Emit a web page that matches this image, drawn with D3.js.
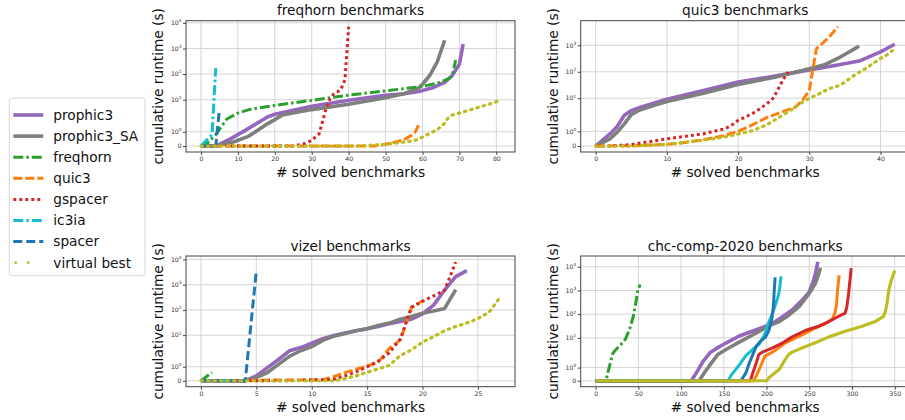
<!DOCTYPE html>
<html>
<head>
<meta charset="utf-8">
<script src="https://cdn.jsdelivr.net/npm/d3@7"></script>
<style>
body { margin: 0; background: #fff; }
text { font-family: "DejaVu Sans", sans-serif; }
</style>
</head>
<body>
<script>
// solvers, in legend / drawing order
var solvers = ["prophic3", "prophic3_SA", "freqhorn", "quic3", "gspacer", "ic3ia", "spacer", "virtual best"];
var colors  = ["#9467bd", "#7f7f7f", "#2ca02c", "#ff7f0e", "#d62728", "#17becf", "#1f77b4", "#bcbd22"];
var dashes  = [null, null, "10,3,2.5,3", "9,3", "3,3", "10,3,2.5,3", "9,4", "1.5,5"];
var widths  = [3.6, 3.6, 3, 3, 3, 3, 3, 3.2];

// [# solved, cumulative runtime (s)] -- freqhorn benchmarks
var fhProphic3 = [[0,0],[4,0],[8,0.5],[12,1.1],[18,2.1],[20,2.7],[30,5.5],[40,9.5],[50,15],[55,17],[59,21],[63,30],[66,47],[68,86],[70,245],[71,1500]];
var fhSA       = [[0,0],[4,0],[9,0.3],[13,0.7],[18,1.56],[20,1.86],[22,2.5],[30,4.1],[40,6.6],[50,12],[55,17],[59,29],[60,40],[62,90],[64,300],[66,2100]];
var fhFreqhorn = [[0,0],[1,0],[4,0.8],[7,1.9],[10,3.0],[13,4.1],[20,6],[30,9.4],[40,15],[50,22],[60,33],[64,44],[67,65],[68,85],[69,350]];
var fhQuic3    = [[0,0],[47,0],[50,0.12],[55,0.44],[57,0.75],[58,0.98],[59,1.5]];
var fhGspacer  = [[0,0],[25,0],[28,0.16],[30,0.4],[32,0.86],[33,1.8],[34,5.2],[35,11],[36,17],[37,20],[38,27],[39,60],[40,7100]];
var fhIc3ia    = [[0,0],[3,0.8],[4,170]];
var fhSpacer   = [[0,0],[4,0],[5,4]];
var fhVbest    = [[0,0],[42,0],[50,0.12],[55,0.28],[58,0.4],[60,0.63],[62,0.9],[64,1.15],[66,1.6],[67,2.0],[68,2.5],[71,3.3],[74,4.5],[78,6.6],[81,9.4]];

// quic3 benchmarks
var q3Prophic3 = [[0,0],[2,0.82],[3,1.31],[4,2.2],[5,3.4],[6,4.3],[8,6.3],[10,9.2],[15,19],[20,41],[25,67],[30,118],[34,180],[37,255],[40,570],[42,1100]];
var q3SA       = [[0,0],[2,0.49],[3,0.93],[4,1.49],[5,2.4],[6,3.4],[8,5.2],[10,7.5],[15,15],[20,33],[25,61],[30,130],[32,180],[34,320],[37,940]];
var q3Quic3    = [[0,0],[5,0.02],[10,0.11],[12,0.2],[15,0.42],[18,0.71],[20,1.0],[22,1.44],[24,1.93],[26,2.9],[28,4.5],[29,8],[30,20],[31,750],[32,1300],[33,2400],[34,5100]];
var q3Gspacer  = [[0,0],[2,0],[5,0.1],[10,0.49],[15,0.82],[18,1.16],[19,1.38],[20,1.75],[22,2.6],[23,3.9],[24,6],[25,10.5],[26,35],[27,100]];
var q3Vbest    = [[0,0],[5,0],[10,0.12],[15,0.4],[18,0.6],[20,0.82],[22,1.04],[24,1.44],[26,2.05],[28,4.5],[29,7],[30,10],[31,13],[32,18],[33,24],[34,29],[35,40],[36,65],[38,138],[40,320],[41,450],[42,750]];

// vizel benchmarks
var vzProphic3 = [[0,0],[4,0],[5,0.35],[6,0.94],[7,1.52],[8,2.4],[9,3.2],[10,4.8],[11,7.2],[12,9.7],[13,12],[14,15],[15,18],[16,22],[17,28],[18,35],[19,43],[20,70],[21,155],[22,620],[23,2100],[24,3600]];
var vzSA       = [[0,0],[4,0],[5,0.23],[6,0.59],[7,1.17],[8,1.75],[9,2.4],[10,3.5],[11,6.2],[12,9.1],[13,11.6],[14,15],[15,18],[16,24],[17,30],[18,43],[19,55],[20,74],[21,91],[22,115],[23,640]];
var vzFreqhorn = [[0,0],[1,0.6]];
var vzQuic3    = [[0,0],[11,0.08],[12,0.3],[13,0.58],[14,0.82],[15,1.05],[16,1.3],[17,3],[18,6.5],[19,120],[20,230]];
var vzGspacer  = [[0,0],[8,0],[12,0.1],[13,0.35],[14,0.63],[15,1.0],[16,1.4],[17,2],[18,7],[19,130],[20,220],[21,360],[22,600],[23,8000]];
var vzIc3ia    = [[0,0],[4,0]];
var vzSpacer   = [[0,0],[4,0],[5,3600]];
var vzVbest    = [[0,0],[12,0],[13,0.15],[14,0.35],[15,0.6],[16,0.85],[17,1.1],[18,1.8],[19,2.6],[20,5.3],[21,8.7],[22,15],[23,22],[24,30],[25,45],[26,80],[27,316]];

// chc-comp-2020 benchmarks
var chProphic3 = [[0,0],[112,0],[118,0.62],[126,1.5],[134,2.4],[141,3.5],[153,6.2],[168,12],[188,22],[199,31],[207,40],[219,80],[230,150],[242,400],[250,870],[255,2700],[258,7000],[260,16000]];
var chSA       = [[0,0],[121,0],[130,0.87],[143,2],[153,3.3],[168,6.6],[188,16],[203,33],[215,49],[226,91],[238,210],[250,750],[257,1950],[261,5000],[263,9000]];
var chFreqhorn = [[0,0],[12,0],[15,0.8],[20,2.2],[23,3],[30,5.5],[35,9],[40,25],[44,80],[47,300],[49,900],[52,1800]];
var chQuic3    = [[0,0],[185,0],[188,0.37],[193,1.1],[198,1.87],[203,2.1],[211,3.1],[222,6.2],[234,10],[246,16],[257,26],[269,40],[277,62],[280,110],[282,290],[283,1000],[285,4400]];
var chGspacer  = [[0,0],[181,0],[184,0.62],[188,1.37],[191,2],[195,2.5],[207,3.8],[219,6.2],[230,11],[246,21],[261,31],[273,49],[284,80],[292,110],[294,210],[296,750],[298,3700],[299,8800]];
var chIc3ia    = [[0,0],[155,0],[158,0.37],[164,0.87],[170,1.37],[176,1.93],[184,3.3],[191,5.3],[197,12],[203,49],[207,110],[211,290],[214,640],[215,1000],[217,4000]];
var chSpacer   = [[0,0],[170,0],[176,0.62],[180,1.38],[184,2],[188,4.5],[193,7.3],[199,11],[203,22],[206,58],[208,210],[209,1000],[210,3600]];
var chVbest    = [[0,0],[200,0],[203,0.25],[215,0.87],[222,1.63],[226,2],[230,2.5],[242,3.8],[257,6.2],[273,11],[292,19],[312,31],[327,49],[337,80],[339,130],[341,290],[343,1000],[346,2700],[350,7000]];

// tick values
var fhTicks = [0, 10, 20, 30, 40, 50, 60, 70, 80];
var q3Ticks = [0, 10, 20, 30, 40];
var vzTicks = [0, 5, 10, 15, 20, 25];
var chTicks = [0, 50, 100, 150, 200, 250, 300, 350];
var yTickValues = [0, 1, 10, 100, 1000, 10000];

// symlog transform (linthresh 2, linscale 1, base 10)
var LIN = 1 / 0.9, THR = 2;
function symlog(v) { return v <= THR ? v / THR * LIN : LIN + Math.log10(v / THR); }

var panels = [
  {title: "freqhorn benchmarks", left: 186, top: 20.7, w: 329, h: 131.3, xticks: fhTicks, dense: false,
   series: [fhProphic3, fhSA, fhFreqhorn, fhQuic3, fhGspacer, fhIc3ia, fhSpacer, fhVbest]},
  {title: "quic3 benchmarks", left: 580.7, top: 20.7, w: 329, h: 131.3, xticks: q3Ticks, dense: false,
   series: [q3Prophic3, q3SA, null, q3Quic3, q3Gspacer, null, null, q3Vbest]},
  {title: "vizel benchmarks", left: 186, top: 256, w: 329, h: 130.7, xticks: vzTicks, dense: false,
   series: [vzProphic3, vzSA, vzFreqhorn, vzQuic3, vzGspacer, vzIc3ia, vzSpacer, vzVbest]},
  {title: "chc-comp-2020 benchmarks", left: 580.7, top: 256, w: 329, h: 130.7, xticks: chTicks, dense: true,
   series: [chProphic3, chSA, chFreqhorn, chQuic3, chGspacer, chIc3ia, chSpacer, chVbest]}
];

var svg = d3.select("body").append("svg").attr("width", 905).attr("height", 420);

panels.forEach(function(p, pi) {
  var all = [].concat.apply([], p.series.filter(Boolean));
  var xmax = d3.max(all, function(d) { return d[0]; });
  var ymax = d3.max(all, function(d) { return symlog(d[1]); });

  var x = d3.scaleLinear().domain([-0.05 * xmax, 1.05 * xmax]).range([0, p.w]);
  var y = d3.scaleLinear().domain([-0.05 * ymax, 1.05 * ymax]).range([p.h, 0]);
  var yticks = yTickValues.filter(function(v) { return symlog(v) <= y.domain()[1]; });

  var g = svg.append("g").attr("transform", "translate(" + p.left + "," + p.top + ")");

  g.append("clipPath").attr("id", "clip" + pi)
    .append("rect").attr("width", p.w).attr("height", p.h);

  // grid
  g.selectAll("line.vgrid").data(p.xticks).enter().append("line")
    .attr("x1", function(d) { return x(d); }).attr("x2", function(d) { return x(d); })
    .attr("y1", 0).attr("y2", p.h)
    .attr("stroke", "#d0d0d0").attr("stroke-width", 0.9);
  g.selectAll("line.hgrid").data(yticks).enter().append("line")
    .attr("x1", 0).attr("x2", p.w)
    .attr("y1", function(d) { return y(symlog(d)); }).attr("y2", function(d) { return y(symlog(d)); })
    .attr("stroke", "#d0d0d0").attr("stroke-width", 0.9);

  // series
  var line = d3.line()
    .x(function(d) { return x(d[0]); })
    .y(function(d) { return y(symlog(d[1])); });

  var plot = g.append("g").attr("clip-path", "url(#clip" + pi + ")");
  p.series.forEach(function(s, i) {
    if (!s) return;
    var dash = dashes[i];
    if (p.dense && i !== 2) dash = null;
    plot.append("path")
      .attr("fill", "none")
      .attr("stroke", colors[i])
      .attr("stroke-width", widths[i])
      .attr("stroke-linejoin", "round")
      .attr("stroke-linecap", i === 7 && !p.dense ? "round" : "butt")
      .attr("stroke-dasharray", dash)
      .attr("d", line(s));
  });

  // frame
  g.append("rect").attr("width", p.w).attr("height", p.h)
    .attr("fill", "none").attr("stroke", "#444").attr("stroke-width", 1);

  // x axis
  var xa = g.append("g").attr("transform", "translate(0," + p.h + ")")
    .call(d3.axisBottom(x).tickValues(p.xticks).tickSize(3).tickPadding(1.5).tickFormat(d3.format("d")));
  xa.select(".domain").remove();
  xa.selectAll("line").attr("stroke", "#444");
  xa.selectAll("text").attr("font-size", 6.2).attr("fill", "#333")
    .attr("font-family", "DejaVu Sans, sans-serif");

  // y axis with 10^n labels
  var ya = g.append("g")
    .call(d3.axisLeft(y).tickValues(yticks.map(symlog)).tickSize(3).tickFormat(""));
  ya.select(".domain").remove();
  ya.selectAll("line").attr("stroke", "#444");
  yticks.forEach(function(v) {
    var t = g.append("text")
      .attr("x", -4.5).attr("y", y(symlog(v)) + 2.2)
      .attr("text-anchor", "end").attr("font-size", 6.2).attr("fill", "#333");
    if (v === 0) { t.text("0"); return; }
    t.append("tspan").text("10");
    t.append("tspan").attr("font-size", 4.3).attr("dy", -2.8)
      .text(String(Math.round(Math.log10(v))));
  });

  // labels
  g.append("text").attr("x", p.w / 2).attr("y", -5.5)
    .attr("text-anchor", "middle").attr("font-size", 13.7).attr("fill", "#111")
    .text(p.title);
  g.append("text").attr("x", p.w / 2).attr("y", p.h + 24.8)
    .attr("text-anchor", "middle").attr("font-size", 13.7).attr("fill", "#111")
    .text("# solved benchmarks");
  g.append("text")
    .attr("transform", "translate(-23," + (p.h / 2) + ") rotate(-90)")
    .attr("text-anchor", "middle").attr("font-size", 13.7).attr("fill", "#111")
    .text("cumulative runtime (s)");
});

// legend
var legend = svg.append("g");
legend.append("rect")
  .attr("x", 9.3).attr("y", 98).attr("width", 135.7).attr("height", 177.7)
  .attr("rx", 3).attr("fill", "#fff").attr("stroke", "#d8d8d8").attr("stroke-width", 1);

solvers.forEach(function(name, i) {
  var cy = 115 + i * 21.1;
  if (i === 7) {
    legend.selectAll("circle.vb").data([15.7, 28.3]).enter().append("circle")
      .attr("cx", function(d) { return d; }).attr("cy", cy).attr("r", 1.4)
      .attr("fill", colors[i]);
  } else {
    legend.append("line")
      .attr("x1", 13.3).attr("x2", 43.3).attr("y1", cy).attr("y2", cy)
      .attr("stroke", colors[i]).attr("stroke-width", widths[i])
      .attr("stroke-dasharray", dashes[i]);
  }
  legend.append("text").attr("x", 53.3).attr("y", cy + 4.8)
    .attr("font-size", 13.7).attr("fill", "#111").text(name);
});
</script>
</body>
</html>
